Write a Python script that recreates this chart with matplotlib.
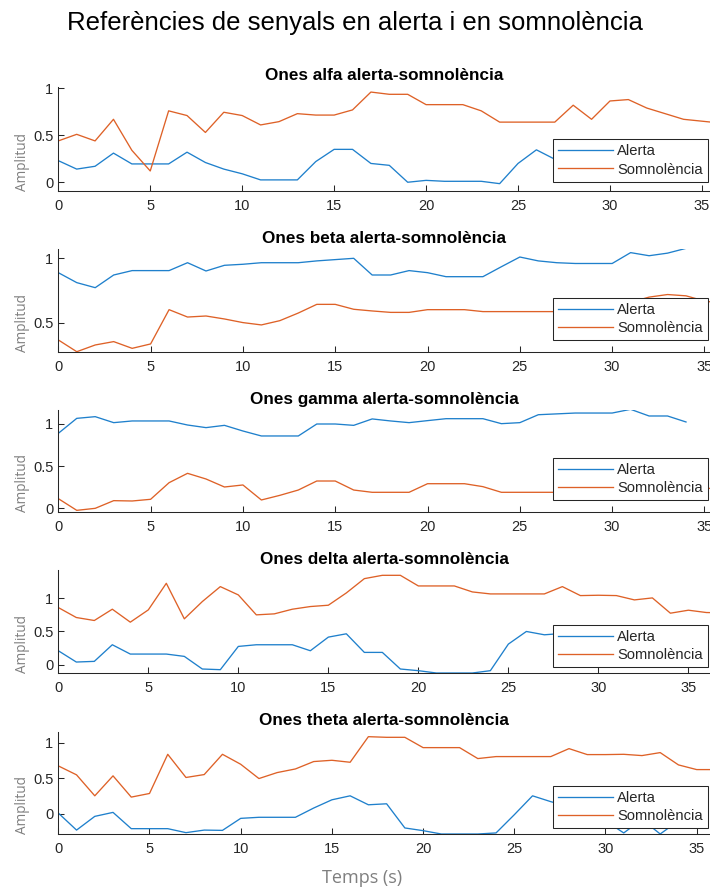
import matplotlib
matplotlib.use("Agg")
import matplotlib.pyplot as plt

# ---------------- data ----------------
bands = ["alfa", "beta", "gamma", "delta", "theta"]
series_names = ["Alerta", "Somnolència"]

alfa_alerta = [0.23, 0.14, 0.17, 0.31, 0.195, 0.195, 0.195, 0.32, 0.21, 0.14, 0.09, 0.025,
               0.025, 0.025, 0.22, 0.35, 0.35, 0.20, 0.18, 0.0, 0.02, 0.01, 0.01, 0.01,
               -0.015, 0.20, 0.345, 0.245, 0.20, 0.15, 0.10, 0.15, 0.20, 0.20, 0.15]
alfa_somn = [0.44, 0.51, 0.44, 0.67, 0.34, 0.12, 0.76, 0.71, 0.53, 0.745, 0.71, 0.61,
             0.645, 0.73, 0.715, 0.715, 0.77, 0.96, 0.936, 0.936, 0.826, 0.826, 0.826, 0.76,
             0.64, 0.64, 0.64, 0.64, 0.82, 0.67, 0.865, 0.88, 0.79, 0.73, 0.67, 0.65, 0.63]

beta_alerta = [0.889, 0.812, 0.773, 0.871, 0.905, 0.905, 0.905, 0.966, 0.902, 0.946, 0.954,
               0.966, 0.966, 0.966, 0.98, 0.99, 1.0, 0.871, 0.871, 0.905, 0.889, 0.858, 0.858,
               0.858, 0.935, 1.01, 0.98, 0.966, 0.96, 0.96, 0.96, 1.044, 1.02, 1.04, 1.077]
beta_somn = [0.369, 0.278, 0.33, 0.356, 0.304, 0.338, 0.603, 0.546, 0.554, 0.531, 0.503,
             0.485, 0.518, 0.577, 0.644, 0.644, 0.606, 0.593, 0.582, 0.582, 0.603, 0.603,
             0.603, 0.588, 0.588, 0.588, 0.588, 0.588, 0.59, 0.60, 0.62, 0.66, 0.70, 0.72,
             0.71, 0.67, 0.65]

gamma_alerta = [0.889, 1.067, 1.087, 1.016, 1.036, 1.036, 1.036, 0.988, 0.957, 0.984, 0.917,
                0.858, 0.858, 0.858, 1.0, 1.0, 0.984, 1.06, 1.036, 1.016, 1.04, 1.063, 1.063,
                1.063, 1.004, 1.016, 1.11, 1.12, 1.13, 1.13, 1.13, 1.174, 1.095, 1.095, 1.024]
gamma_somn = [0.115, -0.024, 0.0, 0.091, 0.087, 0.107, 0.304, 0.415, 0.348, 0.253, 0.277,
              0.099, 0.154, 0.217, 0.324, 0.324, 0.217, 0.19, 0.19, 0.19, 0.292, 0.292, 0.292,
              0.257, 0.19, 0.19, 0.19, 0.19, 0.19, 0.19, 0.19, 0.20, 0.21, 0.22, 0.23, 0.235,
              0.24]

delta_alerta = [0.21, 0.04, 0.05, 0.30, 0.16, 0.16, 0.16, 0.125, -0.065, -0.075, 0.275, 0.30,
                0.30, 0.30, 0.21, 0.415, 0.465, 0.185, 0.185, -0.065, -0.09, -0.125, -0.125,
                -0.125, -0.09, 0.31, 0.50, 0.45, 0.47, 0.45, 0.40, 0.35, 0.40, 0.45, 0.50]
delta_somn = [0.86, 0.71, 0.665, 0.835, 0.64, 0.825, 1.225, 0.69, 0.95, 1.175, 1.05, 0.75,
              0.765, 0.835, 0.875, 0.895, 1.08, 1.295, 1.345, 1.345, 1.185, 1.185, 1.185,
              1.095, 1.065, 1.065, 1.065, 1.065, 1.175, 1.04, 1.045, 1.04, 0.975, 1.005,
              0.775, 0.82, 0.785, 0.78]

theta_alerta = [0.01, -0.23, -0.037, 0.019, -0.21, -0.21, -0.21, -0.266, -0.23, -0.234,
                -0.065, -0.05, -0.05, -0.05, 0.08, 0.196, 0.252, 0.126, 0.14, -0.2, -0.238,
                -0.285, -0.285, -0.285, -0.27, -0.014, 0.252, 0.17, 0.10, 0.0, -0.10, -0.27,
                -0.08, -0.285, -0.10]
theta_somn = [0.673, 0.547, 0.252, 0.533, 0.234, 0.285, 0.836, 0.51, 0.551, 0.836, 0.696,
              0.495, 0.579, 0.63, 0.734, 0.752, 0.724, 1.084, 1.075, 1.075, 0.93, 0.93, 0.93,
              0.776, 0.804, 0.804, 0.804, 0.804, 0.916, 0.832, 0.832, 0.836, 0.818, 0.86,
              0.687, 0.621, 0.621]

alerta_data = [alfa_alerta, beta_alerta, gamma_alerta, delta_alerta, theta_alerta]
somn_data = [alfa_somn, beta_somn, gamma_somn, delta_somn, theta_somn]

ylims = [(-0.09, 1.017), (0.278, 1.072), (-0.04, 1.166), (-0.125, 1.425), (-0.285, 1.154)]
xmaxs = [35.44, 35.3, 35.3, 36.2, 35.73]
yticks_list = [[0, 0.5, 1], [0.5, 1], [0, 0.5, 1], [0, 0.5, 1], [0, 0.5, 1]]
ytick_labels = {0: "0", 0.5: "0.5", 1: "1"}
xticks = [0, 5, 10, 15, 20, 25, 30, 35]

main_title = "Referències de senyals en alerta i en somnolència"
sub_title_fmt = "Ones {} alerta-somnolència"
ylabel_text = "Amplitud"
xlabel_text = "Temps (s)"

# ---------------- layout / style ----------------
W, H = 710, 890
fig = plt.figure(figsize=(W / 100, H / 100), dpi=100)
plt.rcParams['font.family'] = ['Liberation Sans', 'DejaVu Sans']

blue = "#1f80cc"
orange = "#de6127"
dark = "#262626"
gray = "#7f7f7f"

# (top_px, bottom_px)
ax_px = [(86.7, 190.7), (249, 351.7), (410, 511.7), (570, 673), (731.7, 834)]
leg_bottom_px = [181.7, 340, 500, 667, 828]
left_px = 58.3

for i, band in enumerate(bands):
    top, bot = ax_px[i]
    ax = fig.add_axes([left_px / W, 1 - bot / H, 1 - left_px / W, (bot - top) / H])
    xa = list(range(len(alerta_data[i])))
    xs = list(range(len(somn_data[i])))
    ax.plot(xa, alerta_data[i], color=blue, lw=0.95, label=series_names[0])
    ax.plot(xs, somn_data[i], color=orange, lw=0.95, label=series_names[1])
    ax.set_xlim(0, xmaxs[i])
    ax.set_ylim(*ylims[i])
    ax.set_xticks(xticks)
    ax.set_xticklabels([str(t) for t in xticks])
    ax.set_yticks(yticks_list[i])
    ax.set_yticklabels([ytick_labels[t] for t in yticks_list[i]])
    for s in ["top", "right"]:
        ax.spines[s].set_visible(False)
    for s in ["left", "bottom"]:
        ax.spines[s].set_color(dark)
        ax.spines[s].set_linewidth(0.75)
    ax.tick_params(direction="in", length=4, width=0.75, colors=dark,
                   labelsize=10.5, labelcolor=dark)
    ax.tick_params(axis="x", pad=6)
    ax.tick_params(axis="y", pad=3.5)
    ax.set_title(sub_title_fmt.format(band), fontsize=12.3, fontweight="bold",
                 color="black", pad=4.5)
    ax.text(-0.055, 0.0, ylabel_text, transform=ax.transAxes, rotation=90,
            ha="center", va="bottom", fontsize=9.8, color=gray,
            family=["Open Sans", "DejaVu Sans"])
    leg_y = (bot - leg_bottom_px[i]) / (bot - top)
    leg = ax.legend(loc="lower right", bbox_to_anchor=(0.997, leg_y),
                    borderaxespad=0, fontsize=10.6, handlelength=3.7,
                    handletextpad=0.3, borderpad=0.35, labelspacing=0.28,
                    fancybox=False, framealpha=1, edgecolor=dark)
    leg.get_frame().set_linewidth(0.75)
    for t in leg.get_texts():
        t.set_color(dark)

fig.text(0.5, 1 - 23 / H, main_title, ha="center", va="center",
         fontsize=18.5, color="black")
fig.text(362 / W, 1 - 878 / H, xlabel_text, ha="center", va="center",
         fontsize=13, color=gray, family=["Open Sans", "DejaVu Sans"])

fig.savefig("out.png", dpi=100)
